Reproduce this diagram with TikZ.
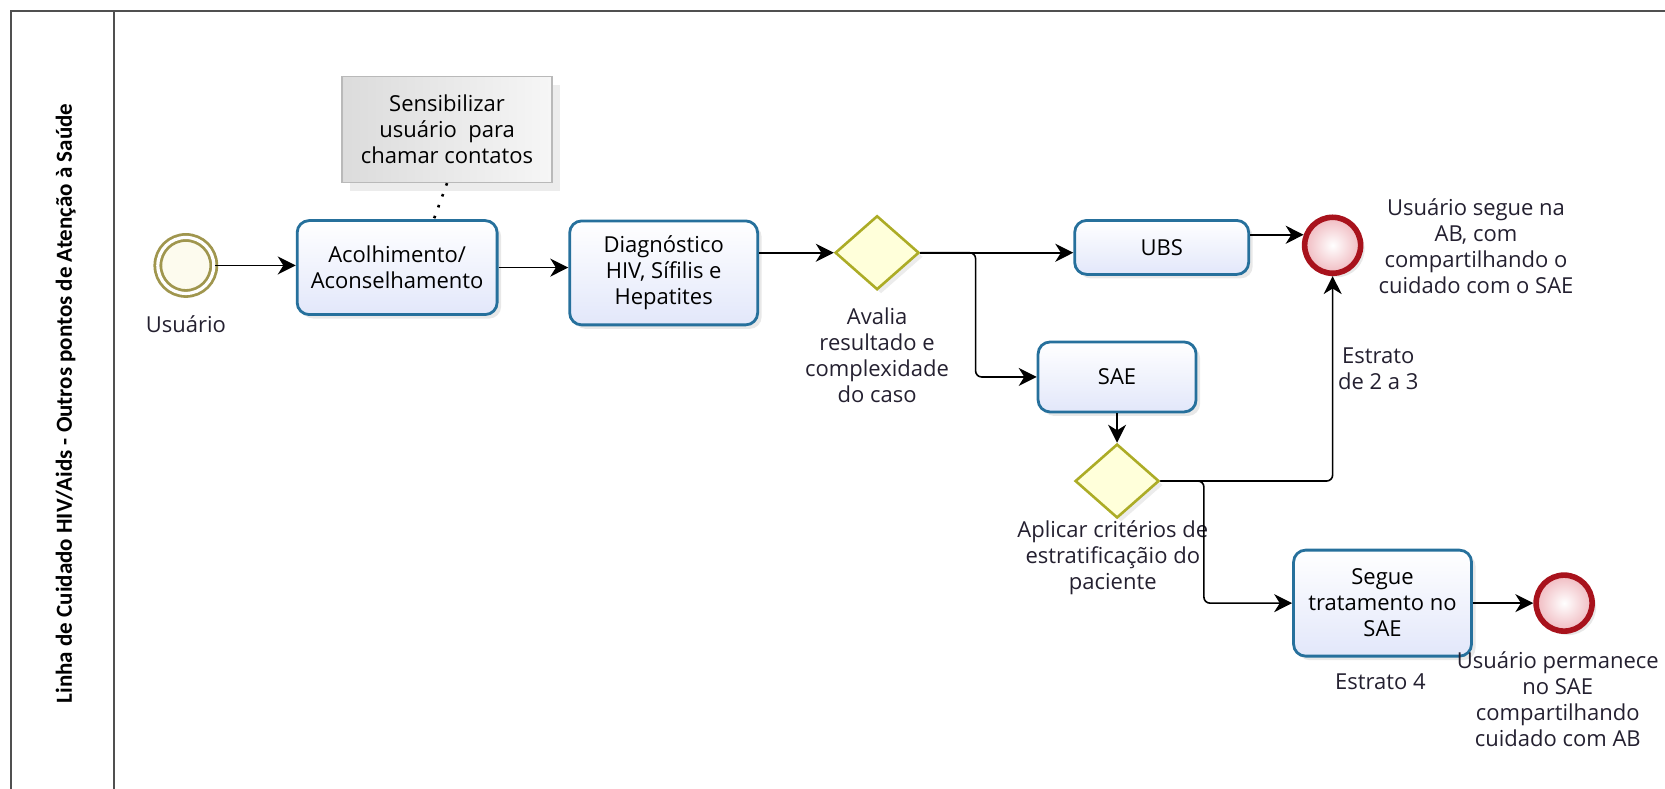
\documentclass[tikz,border=0pt]{standalone}
\usepackage{fontspec}
\setmainfont{Open Sans}
\newfontfamily\poolfont{Carlito}
\usetikzlibrary{shapes.geometric,arrows.meta,shadows}
\definecolor{taskline}{RGB}{38,112,156}
\definecolor{taskfill}{RGB}{226,231,250}
\definecolor{gwline}{RGB}{172,172,38}
\definecolor{gwfill}{RGB}{255,255,218}
\definecolor{startline}{RGB}{160,150,78}
\definecolor{startfill}{RGB}{253,251,238}
\definecolor{endline}{RGB}{168,18,28}
\definecolor{endfill}{RGB}{240,186,192}
\definecolor{labeltext}{RGB}{36,32,48}
\definecolor{laneline}{RGB}{80,80,80}
\tikzset{
	task/.style     = {shape=rectangle, rounded corners=6pt,
		draw=taskline, line width=1.4pt, align=center,
		top color=white, bottom color=taskfill, inner sep=2pt,
		drop shadow={opacity=.18, shadow xshift=2pt, shadow yshift=-2pt}},
	note/.style     = {shape=rectangle, draw=gray!55, line width=.6pt,
		align=center, left color=gray!28, right color=gray!7,
		minimum width=105pt, minimum height=53pt,
		drop shadow={opacity=.15, shadow xshift=4pt, shadow yshift=-4pt}},
	gateway/.style  = {diamond, draw=gwline, line width=1.3pt, fill=gwfill,
		minimum width=42pt, minimum height=37pt, inner sep=0pt,
		drop shadow={opacity=.15, shadow xshift=2pt, shadow yshift=-2pt}},
	startev/.style  = {circle, draw=startline, line width=1.4pt,
		double=white, double distance=1.6pt, fill=startfill,
		minimum size=28pt, inner sep=0pt},
	endev/.style    = {circle, draw=endline, line width=2.8pt,
		inner color=white, outer color=endfill,
		minimum size=28pt, inner sep=0pt,
		drop shadow={opacity=.18, shadow xshift=2pt, shadow yshift=-2pt}},
	lbl/.style      = {align=center, text=labeltext},
	pooltitle/.style= {rotate=90, font=\poolfont\bfseries\fontsize{11.5}{14}\selectfont},
	lane/.style     = {draw=laneline, line width=1pt},
	flow/.style     = {draw, line width=.8pt, rounded corners=3pt,
		-{Stealth[length=9pt,width=9pt,inset=2.8pt]}},
	assoc/.style    = {draw, line width=1.3pt, dash pattern=on 1.3pt off 4.5pt}
}
\begin{document}
\begin{tikzpicture}
[
x = 0.531pt, y = -0.531pt,
every node/.style = {font=\fontsize{11}{13}\selectfont}
]
\useasboundingbox (0,0) rectangle (1568,743);
% pool and lane
\draw[lane] (10,745) -- (10,10) -- (1570,10);
\draw[lane] (107,10) -- (107,745);
\node[pooltitle] (title) at (62,380) {Linha de Cuidado HIV/Aids - Outros pontos de Atenção à Saúde};

% events, tasks, gateways
\node[startev] (start) at (175,250) {};
\node[lbl] (startlbl) at (175,305) {Usuário};
\node[task, minimum width=100pt, minimum height=47pt] (acol) at (374,252) {Acolhimento/\\Aconselhamento};
\node[note] (note) at (421,122) {Sensibilizar\\usuário~ para\\chamar contatos};
\coordinate (acoltop) at (408,208);
\node[task, minimum width=94pt, minimum height=52pt] (diag) at (625,257) {Diagnóstico\\HIV, Sífilis e\\Hepatites};
\node[gateway] (gw1) at (826,238) {};
\node[lbl] (gw1lbl) at (826,335) {Avalia\\resultado e\\complexidade\\do caso};
\node[task, minimum width=87pt, minimum height=27pt] (ubs) at (1094,233) {UBS};
\node[task, minimum width=79pt, minimum height=35pt] (sae) at (1052,355) {SAE};
\node[endev] (end1) at (1255,231) {};
\node[lbl] (end1lbl) at (1390,232) {Usuário segue na\\AB, com\\compartilhando o\\cuidado com o SAE};
\node[gateway] (gw2) at (1052,453) {};
\node[lbl] (gw2lbl) at (1048,525) {Aplicar critérios de\\estratificaçãio do\\paciente};
\node[task, minimum width=89pt, minimum height=53pt] (segue) at (1302,568) {Segue\\tratamento no\\SAE};
\node[endev] (end2) at (1473,568) {};
\node[lbl] (end2lbl) at (1467,658) {Usuário permanece\\no SAE\\compartilhando\\cuidado com AB};
\node[lbl] (est4) at (1300,642) {Estrato 4};
\node[lbl] (est23) at (1298,347) {Estrato\\de 2 a 3};

% connectors
\draw[assoc] (note.south) -- (acoltop);
\draw[flow] (start.east) -- (start.east -| acol.west);
\draw[flow] (acol.east) -- (acol.east -| diag.west);
\draw[flow] (diag.east |- gw1.west) -- (gw1.west);
\draw[flow] (gw1.east) -- (gw1.east -| ubs.west);
\draw[flow] (gw1.east) -- ++(52,0) |- (sae.west);
\draw[flow] (ubs.east |- end1.160) -- (end1.160);
\draw[flow] (sae.south) -- (gw2.north);
\draw[flow] (gw2.east) -| (end1.south);
\draw[flow] (gw2.east) -- ++(41,0) |- (segue.west);
\draw[flow] (segue.east) -- (end2.west);
\end{tikzpicture}
\end{document}
